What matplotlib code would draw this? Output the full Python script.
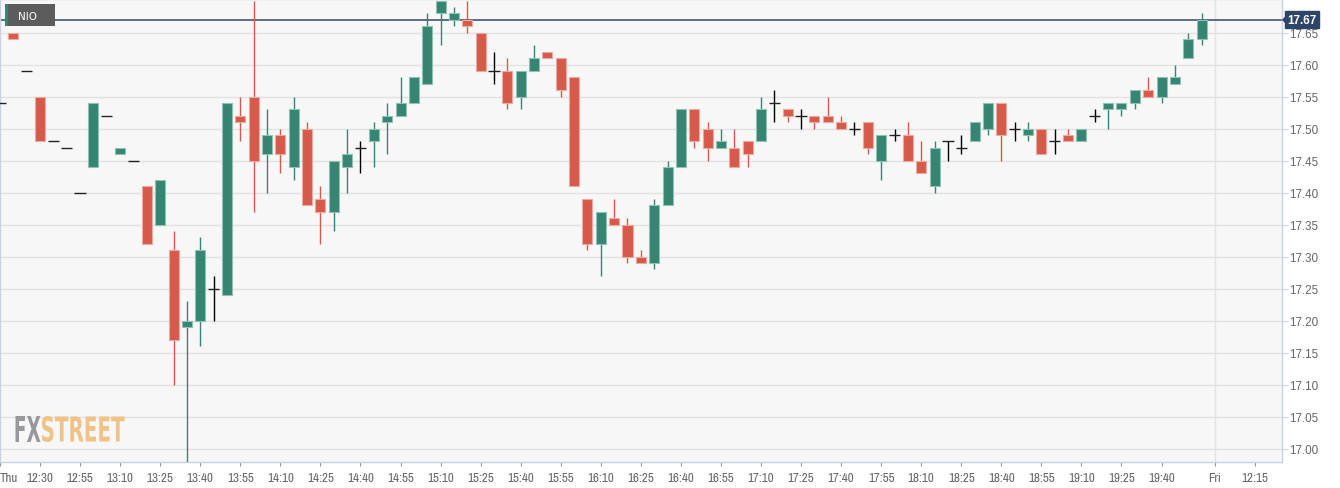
import numpy as np
import matplotlib
matplotlib.use("Agg")
from matplotlib import pyplot as plt
from matplotlib import font_manager
from matplotlib.patches import Rectangle, PathPatch, Polygon
from matplotlib.textpath import TextPath
from matplotlib.font_manager import FontProperties
from matplotlib.transforms import Affine2D, blended_transform_factory

# 5-minute candles for NIO
opens = [17.54, 17.65, 17.59, 17.55, 17.48, 17.47, 17.40, 17.44, 17.52, 17.46,
         17.45, 17.41, 17.35, 17.31, 17.19, 17.20, 17.25, 17.24, 17.52, 17.55,
         17.46, 17.49, 17.44, 17.50, 17.39, 17.37, 17.44, 17.47, 17.48, 17.51,
         17.52, 17.54, 17.57, 17.68, 17.67, 17.67, 17.65, 17.59, 17.59, 17.55,
         17.59, 17.62, 17.61, 17.58, 17.39, 17.32, 17.36, 17.35, 17.30, 17.29,
         17.38, 17.44, 17.53, 17.50, 17.47, 17.47, 17.48, 17.48, 17.54, 17.53,
         17.52, 17.52, 17.52, 17.51, 17.50, 17.51, 17.45, 17.49, 17.49, 17.45,
         17.41, 17.48, 17.47, 17.48, 17.50, 17.54, 17.50, 17.49, 17.50, 17.48,
         17.49, 17.48, 17.52, 17.53, 17.53, 17.54, 17.56, 17.55, 17.57, 17.61,
         17.64]
highs = [17.54, 17.65, 17.59, 17.55, 17.48, 17.47, 17.40, 17.54, 17.52, 17.47,
         17.45, 17.41, 17.42, 17.34, 17.23, 17.33, 17.27, 17.54, 17.55, 17.70,
         17.53, 17.50, 17.55, 17.51, 17.41, 17.45, 17.50, 17.48, 17.51, 17.54,
         17.58, 17.58, 17.68, 17.70, 17.69, 17.70, 17.65, 17.62, 17.61, 17.59,
         17.63, 17.62, 17.61, 17.58, 17.39, 17.37, 17.39, 17.36, 17.31, 17.39,
         17.45, 17.53, 17.53, 17.51, 17.50, 17.50, 17.48, 17.55, 17.56, 17.53,
         17.53, 17.52, 17.55, 17.52, 17.51, 17.51, 17.49, 17.50, 17.51, 17.48,
         17.48, 17.48, 17.49, 17.51, 17.54, 17.54, 17.51, 17.51, 17.50, 17.50,
         17.50, 17.50, 17.53, 17.54, 17.54, 17.56, 17.58, 17.58, 17.60, 17.65,
         17.68]
lows = [17.54, 17.64, 17.59, 17.48, 17.48, 17.47, 17.40, 17.44, 17.52, 17.46,
        17.45, 17.32, 17.35, 17.10, 16.97, 17.16, 17.20, 17.24, 17.48, 17.37,
        17.40, 17.43, 17.42, 17.38, 17.32, 17.34, 17.40, 17.43, 17.44, 17.46,
        17.52, 17.54, 17.57, 17.63, 17.66, 17.65, 17.59, 17.57, 17.53, 17.53,
        17.59, 17.61, 17.55, 17.41, 17.31, 17.27, 17.35, 17.29, 17.29, 17.28,
        17.38, 17.44, 17.47, 17.45, 17.47, 17.44, 17.44, 17.48, 17.51, 17.51,
        17.50, 17.50, 17.51, 17.50, 17.49, 17.46, 17.42, 17.48, 17.45, 17.43,
        17.40, 17.45, 17.46, 17.48, 17.49, 17.45, 17.48, 17.48, 17.46, 17.46,
        17.48, 17.48, 17.51, 17.50, 17.52, 17.53, 17.55, 17.54, 17.57, 17.61,
        17.63]
closes = [17.54, 17.64, 17.59, 17.48, 17.48, 17.47, 17.40, 17.54, 17.52, 17.47,
          17.45, 17.32, 17.42, 17.17, 17.20, 17.31, 17.25, 17.54, 17.51, 17.45,
          17.49, 17.46, 17.53, 17.38, 17.37, 17.45, 17.46, 17.47, 17.50, 17.52,
          17.54, 17.58, 17.66, 17.70, 17.68, 17.66, 17.59, 17.59, 17.54, 17.59,
          17.61, 17.61, 17.56, 17.41, 17.32, 17.37, 17.35, 17.30, 17.29, 17.38,
          17.44, 17.53, 17.48, 17.47, 17.48, 17.44, 17.46, 17.53, 17.54, 17.52,
          17.52, 17.51, 17.51, 17.50, 17.50, 17.47, 17.49, 17.49, 17.45, 17.43,
          17.47, 17.48, 17.47, 17.51, 17.54, 17.49, 17.50, 17.50, 17.46, 17.48,
          17.48, 17.50, 17.52, 17.54, 17.54, 17.56, 17.55, 17.58, 17.58, 17.64,
          17.67]

last_price = 17.67
time_labels = ["Thu", "12:30", "12:55", "13:10", "13:25", "13:40", "13:55",
               "14:10", "14:25", "14:40", "14:55", "15:10", "15:25", "15:40",
               "15:55", "16:10", "16:25", "16:40", "16:55", "17:10", "17:25",
               "17:40", "17:55", "18:10", "18:25", "18:40", "18:55", "19:10",
               "19:25", "19:40"]
next_day_labels = ["Fri", "12:15"]
price_ticks = [17.00, 17.05, 17.10, 17.15, 17.20, 17.25, 17.30, 17.35,
               17.40, 17.45, 17.50, 17.55, 17.60, 17.65]

GREEN = "#358572"
GREEN_EDGE = "#8fc2b3"
RED = "#d65a4a"
RED_EDGE = "#ecaaa2"
SPINE = "#cbd1e4"
GRID = "#e2e2e2"

# narrow font for the time axis if one is installed
narrow = [f.name for f in font_manager.fontManager.ttflist if "Narrow" in f.name]
if narrow:
    xfont, xsize = narrow[0], 9.3
else:
    xfont, xsize = "Liberation Sans", 8.0

W, H = 1340, 489
fig = plt.figure(figsize=(W / 100, H / 100), dpi=100)
fig.patch.set_facecolor("white")
ax = fig.add_axes([0, 1 - 463.3 / H, 1281.7 / W, 463.3 / H])
ax.set_facecolor("#f7f7f7")

o, hi, lo, c = (np.array(a) for a in (opens, highs, lows, closes))
x = np.arange(len(o))
up = c > o
down = c < o
flat = c == o

ax.axhline(last_price, color="#34495e", lw=1.1, zorder=2)

ax.vlines(x[up], lo[up], hi[up], color=GREEN, lw=1, zorder=3)
ax.bar(x[up], (c - o)[up], bottom=o[up], width=0.75, color=GREEN,
       edgecolor=GREEN_EDGE, linewidth=0.8, zorder=4)
ax.vlines(x[down], lo[down], hi[down], color=RED, lw=1, zorder=3)
ax.bar(x[down], (o - c)[down], bottom=c[down], width=0.75, color=RED,
       edgecolor=RED_EDGE, linewidth=0.8, zorder=4)
ax.vlines(x[flat], lo[flat], hi[flat], color="black", lw=1, zorder=3)
ax.hlines(o[flat], x[flat] - 0.42, x[flat] + 0.42, color="#222222", lw=1, zorder=4)

# axes, grid, ticks
ax.set_xlim(0, 96)
ax.set_ylim(16.9787, 17.7026)
ax.yaxis.tick_right()
ax.set_yticks(price_ticks)
ax.set_yticklabels([f"{p:.2f}" for p in price_ticks], fontfamily="Liberation Sans",
                   fontsize=8.4, color="#666666")
ax.tick_params(axis="y", length=4, width=0.8, color=SPINE, pad=1.5)
ax.grid(axis="y", color=GRID, lw=1, zorder=0)
ax.set_axisbelow(True)

tick_pos = list(np.arange(0, 3 * len(time_labels), 3)) + [91, 94]
ax.set_xticks(tick_pos)
ax.set_xticklabels(time_labels + next_day_labels,
                   fontfamily=xfont, fontsize=xsize, color="#666666")
ax.get_xticklabels()[0].set_ha("left")
ax.tick_params(axis="x", length=3, width=0.8, color="#999999", pad=4)
ax.axvline(91, color=GRID, lw=1, zorder=0)

for s in ax.spines.values():
    s.set_color(SPINE)
    s.set_linewidth(1)

# last price tag on the right axis
tr = blended_transform_factory(ax.transAxes, ax.transData)
ax.text(1.0045, last_price, "17.67", transform=tr, ha="left", va="center",
        fontfamily="Liberation Sans", fontweight="bold", fontsize=8.4, color="white",
        bbox=dict(boxstyle="square,pad=0.22", fc="#2c4568", ec="#2c4568"),
        clip_on=False, zorder=6)
ax.add_patch(Polygon([(1.0002, last_price), (1.0035, last_price + 0.007),
                      (1.0035, last_price - 0.007)], closed=True, transform=tr,
                     fc="#2c4568", ec="none", clip_on=False, zorder=6))

# symbol label in the top-left corner
px = Affine2D().scale(1 / W, 1 / H) + fig.transFigure
fig.add_artist(Rectangle((5, H - 27), 50, 22, transform=px, fc="#5c5c5c", ec="none", zorder=5))
fig.add_artist(Rectangle((5, H - 27), 2.5, 22, transform=px, fc=GREEN, ec="none", zorder=6))
fig.text(18 / W, 1 - 16.5 / H, "NIO", ha="left", va="center", color="white",
         fontfamily="DejaVu Sans", fontsize=7.5, zorder=7)


# FXSTREET watermark drawn from text paths stretched into its box
def logo_part(text, x0, x1, y0, y1, color):
    path = TextPath((0, 0), text, size=40,
                    prop=FontProperties(family="DejaVu Sans", weight="bold"))
    ext = path.get_extents()
    t = (Affine2D().translate(-ext.x0, -ext.y0)
         .scale((x1 - x0) / ext.width, (y1 - y0) / ext.height)
         .translate(x0, y0))
    fig.add_artist(PathPatch(t.transform_path(path), transform=px,
                             fc=color, ec="none", zorder=1))


logo_part("FX", 15.5, 40.5, H - 443, H - 417, "#98989c")
logo_part("STREET", 42, 124.5, H - 443, H - 417, "#f1c285")

fig.savefig("out.png", dpi=100, facecolor=fig.get_facecolor())
